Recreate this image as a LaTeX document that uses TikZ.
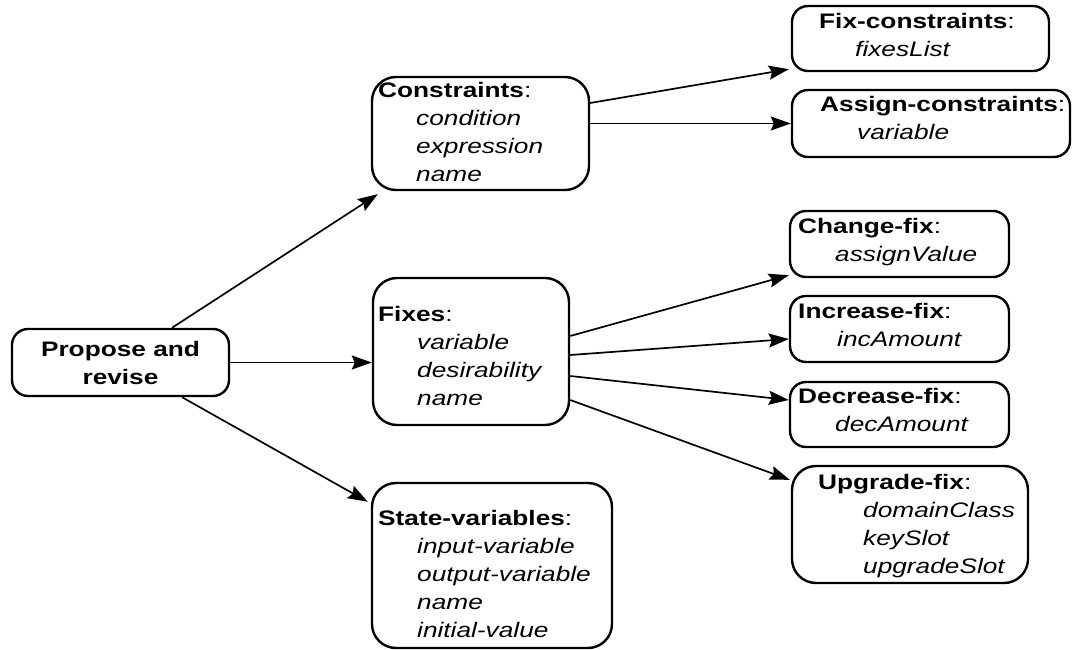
\documentclass[tikz,border=0pt]{standalone}
\usepackage{fontspec}
\setmainfont{Liberation Sans}[FakeStretch=1.25]
\usetikzlibrary{arrows.meta}
\newcommand{\slotline}[2][38pt]{\hspace*{#1}\textit{#2}}
\begin{document}
\begin{tikzpicture}[x=1pt,y=-1pt,
  box/.style={draw, line width=2.4pt, rounded corners=16pt, inner sep=0pt},
  bigbox/.style={box, rounded corners=24pt},
  txt/.style={inner sep=0pt, align=left, anchor=north west, font=\fontsize{21}{28}\selectfont},
  arr/.style={line width=1.7pt, -{Stealth[length=20pt,width=14pt,inset=3pt]}}
]
\useasboundingbox (0,0) rectangle (1080,650);

% boxes
\node[box, minimum width=217pt, minimum height=67pt, align=center,
      font=\fontsize{21}{28}\selectfont\bfseries] (p) at (120.5,362.5) {Propose and\\revise};
\node[bigbox, minimum width=217pt, minimum height=113pt] (con) at (480.5,133.5) {};
\node[box, minimum width=257pt, minimum height=65pt] (fc) at (920.5,38.5) {};
\node[box, minimum width=278pt, minimum height=67pt] (ac) at (931,123.5) {};
\node[bigbox, minimum width=196pt, minimum height=147pt] (fx) at (471,351.5) {};
\node[box, minimum width=219pt, minimum height=66pt] (cf) at (899.5,244) {};
\node[box, minimum width=219pt, minimum height=66pt] (inc) at (899.5,329) {};
\node[box, minimum width=219pt, minimum height=65pt] (dec) at (899.5,414.5) {};
\node[bigbox, minimum width=236pt, minimum height=117pt] (up) at (910,524.5) {};
\node[bigbox, minimum width=240pt, minimum height=165pt] (sv) at (492,565.5) {};

% texts
\node[txt] (cont) at (378,81.7) {\textbf{Constraints}:\\\slotline{condition}\\\slotline{expression}\\\slotline{name}};
\node[txt] (fct) at (819,12.7) {\textbf{Fix-constraints}:\\\slotline[36pt]{fixesList}};
\node[txt] (act) at (820,95.7) {\textbf{Assign-constraints}:\\\slotline[37pt]{variable}};
\node[txt] (fxt) at (378,305.7) {\textbf{Fixes}:\\\slotline[39pt]{variable}\\\slotline[39pt]{desirability}\\\slotline[39pt]{name}};
\node[txt] (cft) at (798,217.7) {\textbf{Change-fix}:\\\slotline[37pt]{assignValue}};
\node[txt] (inct) at (798,302.7) {\textbf{Increase-fix}:\\\slotline[39pt]{incAmount}};
\node[txt] (dect) at (798,387.7) {\textbf{Decrease-fix}:\\\slotline[37pt]{decAmount}};
\node[txt] (upt) at (818,473.7) {\textbf{Upgrade-fix}:\\\slotline[45pt]{domainClass}\\\slotline[45pt]{keySlot}\\\slotline[45pt]{upgradeSlot}};
\node[txt] (svt) at (378,509.7) {\textbf{State-variables}:\\\slotline[39pt]{input-variable}\\\slotline[39pt]{output-variable}\\\slotline[39pt]{name}\\\slotline[39pt]{initial-value}};

% connectors
\draw[arr] ([xshift=51.5pt]p.north) -- ([xshift=7pt,yshift=-3pt]con.south west);
\draw[arr] (p.east) -- (p.east -| fx.west);
\draw[arr] ([xshift=61.5pt]p.south) -- ([xshift=-3pt,yshift=-20pt]sv.north west);
\draw[arr] ([yshift=30.5pt]con.east) -- ([xshift=-2pt,yshift=3pt]fc.south west);
\draw[arr] (con.east |- ac.west) -- (ac.west);
\draw[arr] ([yshift=15.5pt]fx.east) -- ([yshift=3pt]cf.south west);
\draw[arr] ([yshift=-3.5pt]fx.east) -- ([yshift=-10pt]inc.west);
\draw[arr] ([yshift=-24.5pt]fx.east) -- ([yshift=14.5pt]dec.west);
\draw[arr] ([yshift=-48.5pt]fx.east) -- ([xshift=-1pt,yshift=-15pt]up.north west);
\end{tikzpicture}
\end{document}
